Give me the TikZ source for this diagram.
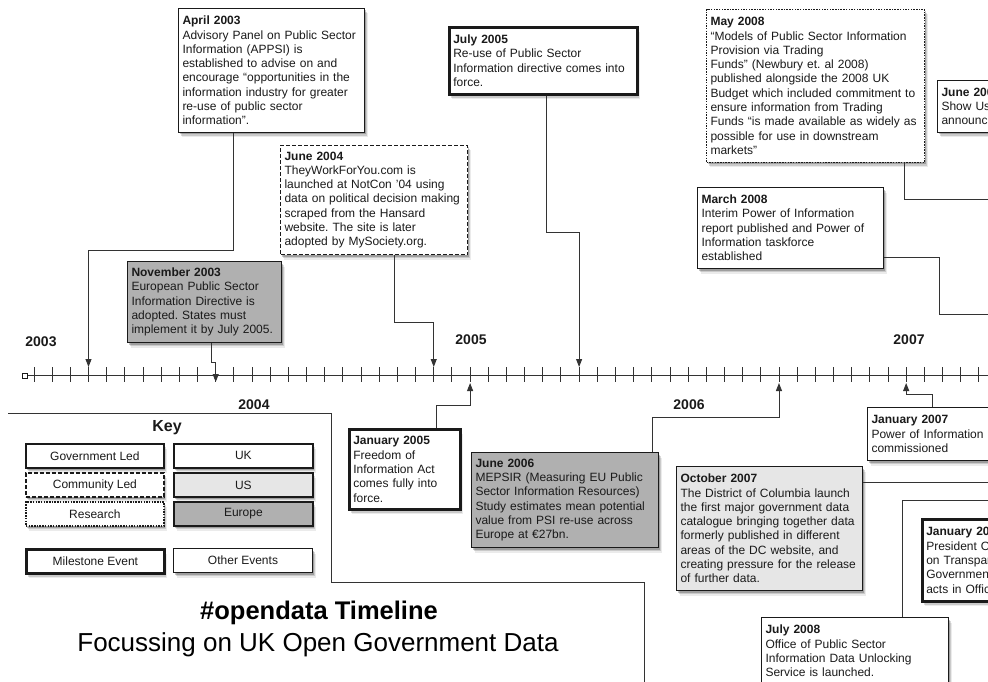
\documentclass[tikz,border=0pt]{standalone}
\usepackage{fontspec}
\setmainfont{Liberation Sans}
\usetikzlibrary{shadows,arrows.meta}
\frenchspacing

\definecolor{ink}{HTML}{1A1A1A}
\definecolor{europe}{HTML}{B0B0B0}
\definecolor{usgrey}{HTML}{E6E6E6}
\definecolor{wire}{HTML}{333333}

\tikzset{
  softshadow/.style={
    drop shadow={shadow xshift=3pt, shadow yshift=-5pt, opacity=0.08, fill=black},
    drop shadow={shadow xshift=2pt, shadow yshift=-3.5pt, opacity=0.14, fill=black},
    drop shadow={shadow xshift=1pt, shadow yshift=-2pt, opacity=0.22, fill=black}},
  evt/.style={draw=ink, fill=white, line width=1pt, anchor=north west, align=left,
    inner xsep=4pt, inner ysep=4pt, text=ink,
    font=\fontsize{12}{14.3}\selectfont, softshadow},
  milestone/.style={line width=2.6pt},
  community/.style={dash pattern=on 4pt off 2pt},
  research/.style={dash pattern=on 1.5pt off 1.2pt},
  usev/.style={fill=usgrey},
  euev/.style={fill=europe},
  link/.style={draw=wire, line width=0.9pt},
  arrowend/.style={-{Triangle[length=8pt,width=6pt]}},
  yearlabel/.style={font=\fontsize{14}{16}\selectfont\bfseries, text=ink},
  keybox/.style={draw=ink, fill=white, line width=1.8pt, anchor=north west,
    minimum height=24pt, inner sep=0pt, text=ink,
    font=\fontsize{12}{14}\selectfont, softshadow},
}

\begin{document}
\begin{tikzpicture}[x=1pt, y=-1pt]
  \useasboundingbox (0,0) rectangle (988,682);
  \clip (0,0) rectangle (988,682);

  % ---------- time axis ----------
  \node[draw=ink, fill=white, minimum size=5pt, inner sep=0pt, line width=0.8pt] (start) at (25,375.5) {};
  \coordinate (axisend) at (1000,375.5);
  \draw[link] (start.east) -- (axisend);
  \foreach \k in {0,...,52}
    \draw[link] ({34+18.17*\k},367) -- ++(0,15);

  % arrow targets on the axis (month ticks)
  \coordinate (apr03t) at ({34+18.17*3},367);
  \coordinate (nov03t) at ({34+18.17*10},382);
  \coordinate (jun04t) at ({34+18.17*22},367);
  \coordinate (jul05t) at ({34+18.17*30},367);
  \coordinate (jan05t) at ({34+18.17*24},383);
  \coordinate (jun06t) at ({34+18.17*41},383);
  \coordinate (jan07t) at ({34+18.17*48},383);

  % year labels
  \node[yearlabel] (y2003) at (41,342) {2003};
  \node[yearlabel] (y2005) at (471,340) {2005};
  \node[yearlabel] (y2007) at (909,340) {2007};
  \node[yearlabel] (y2004) at (254,405) {2004};
  \node[yearlabel] (y2006) at (689,405) {2006};

  % ---------- events above the axis ----------
  \node[evt, text width=178pt, minimum height=124pt] (apr03) at (178,8)
    {\textbf{April 2003}\\Advisory Panel on Public Sector\\Information (APPSI) is\\established to advise on and\\encourage ``opportunities in the\\information industry for greater\\re-use of public sector\\information''.};

  \node[evt, community, text width=179pt, minimum height=109pt] (jun04) at (280,145)
    {\textbf{June 2004}\\TheyWorkForYou.com is\\launched at NotCon '04 using\\data on political decision making\\scraped from the Hansard\\website. The site is later\\adopted by MySociety.org.};

  \node[evt, milestone, text width=180pt, minimum height=67pt] (jul05) at (448,26)
    {\textbf{July 2005}\\Re-use of Public Sector\\Information directive comes into\\force.};

  \node[evt, euev, text width=146pt, minimum height=81pt] (nov03) at (127,261)
    {\textbf{November 2003}\\European Public Sector\\Information Directive is\\adopted. States must\\implement it by July 2005.};

  \node[evt, research, text width=210pt, minimum height=153pt] (may08) at (706,9)
    {\textbf{May 2008}\\``Models of Public Sector Information\\Provision via Trading\\Funds'' (Newbury et. al 2008)\\published alongside the 2008 UK\\Budget which included commitment to\\ensure information from Trading\\Funds ``is made available as widely as\\possible for use in downstream\\markets''};

  \node[evt, text width=178pt, minimum height=81pt] (mar08) at (697,187)
    {\textbf{March 2008}\\Interim Power of Information\\report published and Power of\\Information taskforce\\established};

  \node[evt, text width=182pt, minimum height=52pt] (jun08) at (937,80)
    {\textbf{June 2008}\\Show Us a Better Way\\announced};

  % ---------- events below the axis ----------
  \node[evt, milestone, text width=103pt, minimum height=80pt] (jan05) at (348,428)
    {\textbf{January 2005}\\Freedom of\\Information Act\\comes fully into\\force.};

  \node[evt, euev, text width=179pt, minimum height=95pt] (jun06) at (471,452)
    {\textbf{June 2006}\\MEPSIR (Measuring EU Public\\Sector Information Resources)\\Study estimates mean potential\\value from PSI re-use across\\Europe at €27bn.};

  \node[evt, usev, text width=178pt, minimum height=124pt] (oct07) at (676,466)
    {\textbf{October 2007}\\The District of Columbia launch\\the first major government data\\catalogue bringing together data\\formerly published in different\\areas of the DC website, and\\creating pressure for the release\\of further data.};

  \node[evt, text width=182pt, minimum height=53pt] (jan07) at (867,407)
    {\textbf{January 2007}\\Power of Information Review\\commissioned};

  \node[evt, milestone, text width=182pt, minimum height=82pt] (jan09) at (921,518)
    {\textbf{January 2009}\\President Obama's Memo\\on Transparency and Open\\Government is one of his first\\acts in Office};

  \node[evt, text width=179pt, minimum height=67pt] (jul08) at (761,617)
    {\textbf{July 2008}\\Office of Public Sector\\Information Data Unlocking\\Service is launched.};

  % ---------- connectors ----------
  \draw[link, arrowend] (apr03.south -| 233,0) |- (apr03t |- 0,250) -- (apr03t);
  \draw[link, arrowend] (nov03.south -| 211,0) |- (nov03t |- 0,362) -- (nov03t);
  \draw[link, arrowend] (jun04.south -| 394,0) |- (jun04t |- 0,322) -- (jun04t);
  \draw[link, arrowend] (jul05.south -| 546,0) |- (jul05t |- 0,232) -- (jul05t);
  \draw[link, arrowend] (jan05.north -| 436,0) |- (jan05t |- 0,405) -- (jan05t);
  \draw[link, arrowend] (jun06.north -| 652,0) |- (jun06t |- 0,417) -- (jun06t);
  \draw[link, arrowend] (jan07.north -| 932,0) |- (jan07t |- 0,394) -- (jan07t);

  \coordinate (may08out) at (1000,199);
  \coordinate (mar08out) at (1000,314);
  \coordinate (oct07out) at (1000,482);
  \coordinate (jul08out) at (1000,500);
  \draw[link] (may08.south -| 904,0) |- (may08out);
  \draw[link] (mar08.east |- 0,257) -| (mar08out -| 939,0) -- (mar08out);
  \draw[link] (oct07.east |- 0,482) -- (oct07out);
  \draw[link] (jul08.north -| 902,0) |- (jul08out);

  % ---------- key panel frame ----------
  \draw[link] (8,413) -- (331,413) -- (331,582) -- (644,582) -- (644,690);

  \node[font=\fontsize{16}{18}\selectfont\bfseries, text=ink] (keytitle) at (167,428) {Key};

  \node[keybox, minimum width=138pt] (kgov) at (25,443) {Government Led};
  \node[keybox, minimum width=139pt] (kuk) at (173,443) {UK};
  \node[keybox, community, minimum width=138pt] (kcom) at (25,472) {Community Led};
  \node[keybox, usev, minimum width=139pt] (kus) at (173,472) {US};
  \node[keybox, research, minimum width=138pt] (kres) at (25,501) {Research};
  \node[keybox, euev, minimum width=139pt] (keu) at (173,501) {Europe};
  \node[keybox, line width=2.8pt, minimum width=138pt] (kmile) at (25,548) {Milestone Event};
  \node[keybox, line width=1pt, minimum width=139pt] (kother) at (173,548) {Other Events};

  % ---------- title ----------
  \node[font=\fontsize{25.5}{30}\selectfont\bfseries, text=black] (title) at (319,613) {\#opendata Timeline};
  \node[font=\fontsize{26}{30}\selectfont, text=black] (subtitle) at (318,645) {Focussing on UK Open Government Data};
\end{tikzpicture}
\end{document}
